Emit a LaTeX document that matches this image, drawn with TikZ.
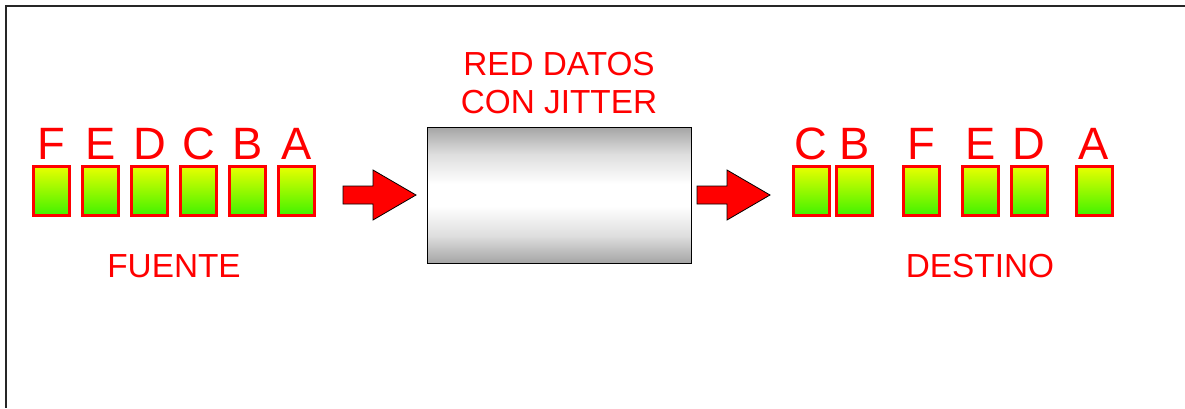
\documentclass[tikz,border=0pt]{standalone}
\usepackage{fontspec}
\setmainfont{Liberation Sans}
\usetikzlibrary{positioning}

\definecolor{rojo}{RGB}{255,0,0}
\definecolor{amarillo}{RGB}{232,255,0}
\definecolor{verde}{RGB}{64,242,0}
\definecolor{grisbox}{RGB}{165,165,165}
\definecolor{grisclaro}{RGB}{222,222,222}

% sombreado del tubo: gris en los bordes, blanco en el centro
\pgfdeclareverticalshading{tubo}{100bp}{color(0bp)=(grisbox); color(25bp)=(grisbox);
  color(35bp)=(grisclaro); color(46bp)=(white); color(54bp)=(white);
  color(65bp)=(grisclaro); color(75bp)=(grisbox); color(100bp)=(grisbox)}

\tikzset{
  paquete/.style={draw=rojo, line width=2.25pt, minimum width=27pt, minimum height=36.75pt,
    inner sep=0pt, top color=amarillo, bottom color=verde},
  letra/.style={text=rojo, inner sep=0pt, font=\fontsize{34}{40}\selectfont},
  rotulo/.style={text=rojo, inner sep=0pt, font=\fontsize{25}{28.5}\selectfont},
  flecha/.pic={\draw[fill=rojo, line width=0.6pt] (0,-9) -- (30,-9) -- (30,-25) -- (73,0)
    -- (30,25) -- (30,9) -- (0,9) -- cycle;}
}

\begin{document}
\begin{tikzpicture}[x=0.75pt, y=-0.75pt]
\useasboundingbox [fill=white] (0,0) rectangle (1185,408);
\draw [line width=1.5pt, black!85] (1185,5.5) -- (6,5.5) -- (6,408);

% paquetes en la fuente
\foreach \l [count=\i] in {F,E,D,C,B,A}{
  \node[paquete] (f\i) at (51.5+49*\i-49,191) {};
  \node[letra, above=4.5pt of f\i, anchor=base] {\l};
}
\node[rotulo, anchor=base] (fuente) at (174,277) {FUENTE};

% red de datos
\node[draw=black, line width=0.75pt, minimum width=198pt, minimum height=102pt,
  shading=tubo] (red) at (559,195) {};
\node[rotulo, align=center, above=9.5pt of red] (titulo) {RED DATOS\\CON JITTER};

\pic at (343,195) {flecha};
\pic at (697,195) {flecha};

% paquetes en el destino
\foreach \l/\x [count=\i] in {C/811,B/854.5,F/921,E/980.5,D/1029,A/1094}{
  \node[paquete] (d\i) at (\x,191) {};
  \node[letra, above=4.5pt of d\i, anchor=base] {\l};
}
\node[rotulo, anchor=base] (destino) at (980,277) {DESTINO};

\end{tikzpicture}
\end{document}
